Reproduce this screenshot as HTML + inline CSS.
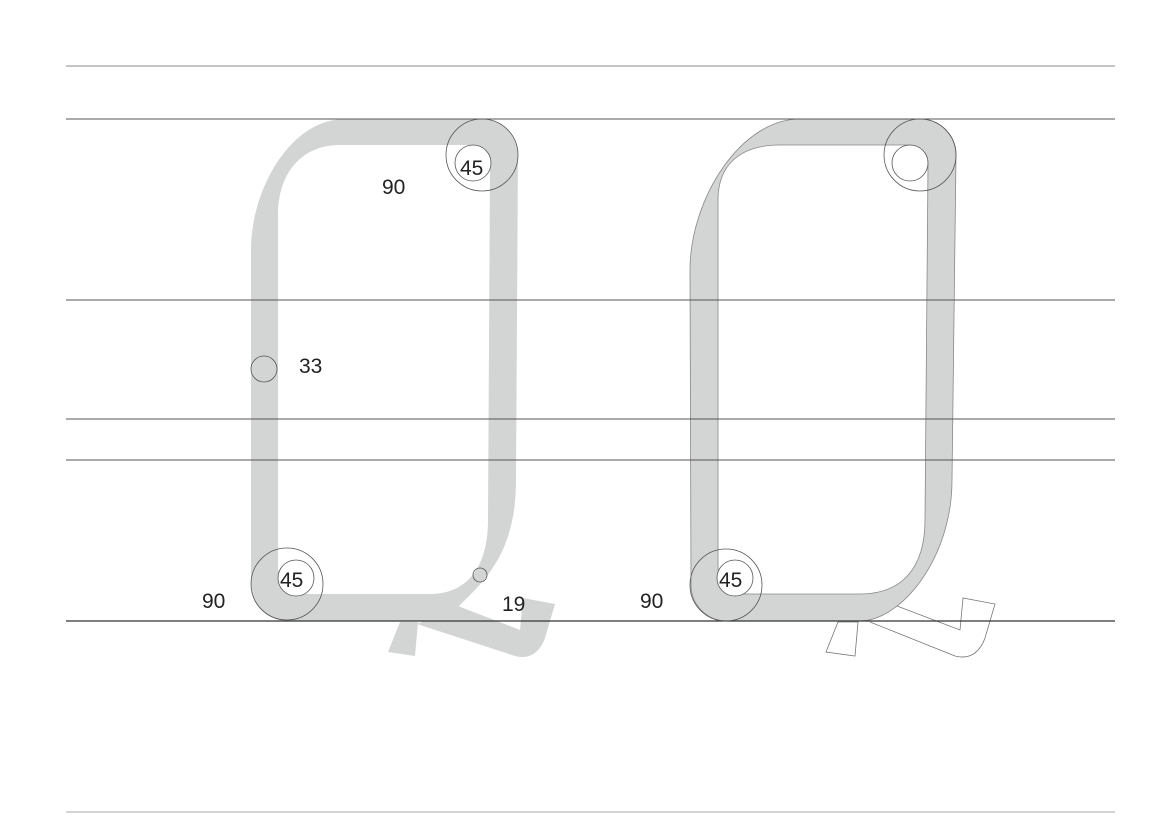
<!DOCTYPE html>
<html><head><meta charset="utf-8"><style>
html,body{margin:0;padding:0;background:#fff;}
svg{display:block;}
text{font-family:"Liberation Sans",sans-serif;font-size:21px;fill:#222;}
</style></head><body>
<svg width="1176" height="834" viewBox="0 0 1176 834" xmlns="http://www.w3.org/2000/svg">
<g fill="#d3d4d4">
<path fill-rule="evenodd" d="M287,621 A36,36 0 0 1 251,585 L251,250 C251,190 290,119 345,119 L482,119 A36,36 0 0 1 518,155 L516,480 C516,540 495,570 470,595 L458,607 L430,621 Z
M300,594 L430,594 C465,594 488,570 488,520 L490,165 L472,145 L340,145 C300,145 278,175 278,215 L278,570 Z"/>
<polygon points="388,652 400,622 418,622 415,656"/>
<path d="M417,624 L458,606 L520,630 L523,598 L555,604 L545,638 C540,652 530,660 515,656 Z"/>
<path fill-rule="evenodd" stroke="#888" stroke-width="0.8" d="M726,621 A36,36 0 0 1 691,585 L690,270 C690,200 740,119 800,119 L920,119 A36,36 0 0 1 956,155 L952,480 C952,560 900,621 860,621 Z
M740,594 L860,594 C900,594 925,570 925,520 L928,165 L910,145 L780,145 C740,145 718,165 718,200 L718,570 Z"/>
</g>
<g fill="none" stroke="#777" stroke-width="0.8">
<polygon points="826,652 838,622 858,622 855,656"/>
<path d="M897,606 L960,630 L963,598 L995,604 L985,638 C980,652 970,660 955,656 L870,622"/>
</g>
<g stroke="#555" stroke-width="1">
<line x1="66" y1="66" x2="1115" y2="66" stroke="#888"/>
<line x1="66" y1="119" x2="1115" y2="119"/>
<line x1="66" y1="300" x2="1115" y2="300"/>
<line x1="66" y1="419" x2="1115" y2="419"/>
<line x1="66" y1="460" x2="1115" y2="460"/>
<line x1="66" y1="621" x2="1115" y2="621" stroke="#333" stroke-width="1.3"/>
<line x1="66" y1="812" x2="1115" y2="812" stroke="#aaa"/>
</g>
<g fill="none" stroke="#555" stroke-width="0.8">
<circle cx="482" cy="155" r="36"/>
<circle cx="473" cy="163" r="18" fill="#fff"/>
<circle cx="287" cy="584" r="36"/>
<circle cx="296" cy="578" r="18" fill="#fff"/>
<circle cx="264" cy="369" r="13"/>
<circle cx="480" cy="575" r="7"/>
<circle cx="920" cy="155" r="36"/>
<circle cx="910" cy="163" r="18" fill="#fff"/>
<circle cx="726" cy="585" r="36"/>
<circle cx="735" cy="578" r="18" fill="#fff"/>
</g>
<text x="382" y="194">90</text>
<text x="460" y="175">45</text>
<text x="299" y="373">33</text>
<text x="280" y="587">45</text>
<text x="202" y="608">90</text>
<text x="502" y="611">19</text>
<text x="719" y="587">45</text>
<text x="640" y="608">90</text>
</svg>
</body></html>
